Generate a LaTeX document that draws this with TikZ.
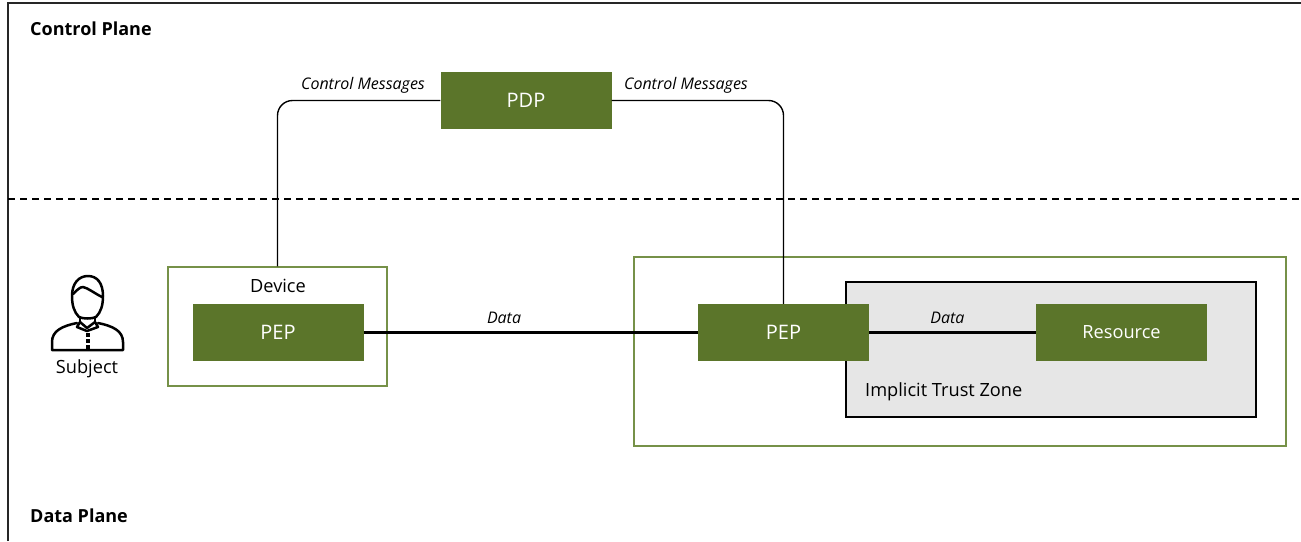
\documentclass[tikz,border=0pt]{standalone}
\usepackage{fontspec}
\setmainfont{Open Sans}
\begin{document}
\begin{tikzpicture}[x=1pt,y=-1pt,
  greenbox/.style={fill=zgreen, draw=none, text=white, inner sep=0pt, minimum width=171pt, minimum height=57pt, font=\fontsize{20}{24}\selectfont},
  zone/.style={draw=zborder, line width=1.5pt, inner sep=0pt},
  ctrl/.style={draw=black, line width=1.4pt, rounded corners=15pt},
  dataline/.style={draw=black, line width=2.6pt},
  lbl/.style={inner sep=0pt, font=\fontsize{16}{19}\selectfont\itshape},
  plane/.style={inner sep=0pt, anchor=west, font=\fontsize{18}{21}\selectfont\bfseries},
  txt/.style={inner sep=0pt, font=\fontsize{18.2}{22}\selectfont}]
\definecolor{zgreen}{RGB}{91,117,42}
\definecolor{zborder}{RGB}{118,145,72}
\definecolor{zgray}{RGB}{230,230,230}
\useasboundingbox (0,0) rectangle (1301,541);
\fill[white] (0,0) rectangle (1301,541);
% outer frame and plane divider
\draw[line width=1.5pt, draw=black!85] (8,541) -- (8,3) -- (1301,3);
\draw[line width=1.4pt, dash pattern=on 7pt off 5pt] (8,199) -- (1301,199);
\node[plane] (cp) at (30,28.5) {Control Plane};
\node[plane] (dp) at (30,515.5) {Data Plane};
% containers
\node[zone, minimum width=219pt, minimum height=119pt] (device) at (277.5,326.5) {};
\node[zone, minimum width=652pt, minimum height=189pt] (site) at (960,351.5) {};
\node[draw=black, fill=zgray, line width=1.5pt, inner sep=0pt, minimum width=410pt, minimum height=135pt] (itz) at (1051,349.5) {};
\node[txt] (devlbl) at (278,285.5) {Device};
\node[txt, anchor=west] (itzlbl) at (865,391.5) {Implicit Trust Zone};
% boxes
\node[greenbox] (pdp) at (526,100.5) {PDP};
\node[greenbox] (pep1) at (278,332.5) {PEP};
\node[greenbox] (pep2) at (783.5,332.5) {PEP};
\node[greenbox, font=\fontsize{18.2}{22}\selectfont] (res) at (1121.5,332.5) {Resource};
% control connectors
\draw[ctrl] (pdp.west) -| (device.north);
\draw[ctrl] (pdp.east) -| (pep2.north);
\node[lbl] (cm1) at (363,85) {Control Messages};
\node[lbl] (cm2) at (686,85) {Control Messages};
% data connectors
\draw[dataline] (pep1.east) -- node[lbl, pos=0.42, above=8pt] (d1) {Data} (pep2.west);
\draw[dataline] (pep2.east) -- node[lbl, pos=0.47, above=8pt] (d2) {Data} (res.west);
% subject icon
\begin{scope}[line width=2.5pt, line join=round, line cap=round]
  % head
  \draw (79,317) .. controls (74,312) and (72,305) .. (72,296)
        .. controls (72,283) and (79,276) .. (88,276)
        .. controls (97,276) and (103,283) .. (103,296)
        .. controls (103,305) and (101,312) .. (96,317)
        .. controls (92,319) and (83,319) .. (79,317) -- cycle;
  % hair
  \draw (73,294) .. controls (77,290) and (80,287) .. (83,287)
        .. controls (88,288) and (94,293) .. (102,297);
  % neck
  \draw (80,317) -- (80,322);
  \draw (95,317) -- (95,322);
  % collar / bow tie
  \draw (80,322) -- (87,328) -- (95,322);
  \draw (80,322) -- (77,327) -- (87,331) -- (98,327) -- (95,322);
  % shoulders
  \draw (77,323) .. controls (62,326) and (52,331) .. (52,342) -- (52,350) -- (123,350) -- (123,342)
        .. controls (123,331) and (113,326) .. (98,323);
  % buttons
  \fill (85.5,333) rectangle (89.5,337);
  \fill (85.5,339) rectangle (89.5,343);
  \fill (85.5,345) rectangle (89.5,349);
\end{scope}
\node[txt] (subj) at (87,368.5) {Subject};
\end{tikzpicture}
\end{document}
